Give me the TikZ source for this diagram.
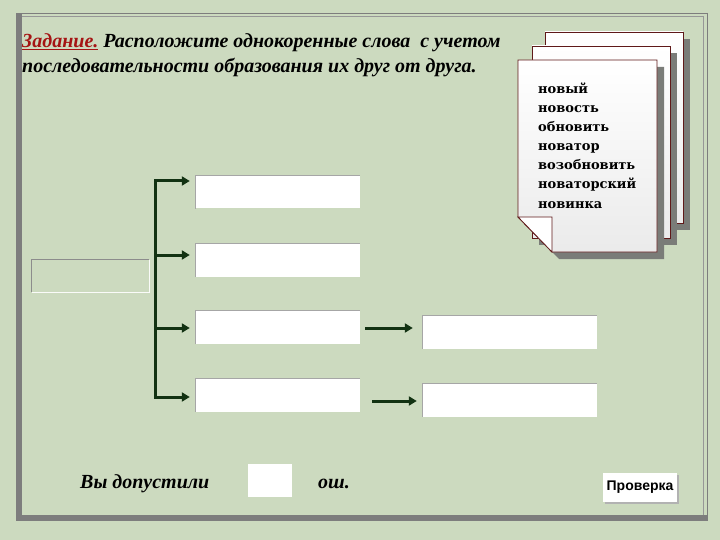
\documentclass[tikz,border=0pt]{standalone}
\usepackage{fontspec}
\setmainfont{Liberation Serif}
\newfontfamily\wordf{DejaVu Serif}
\newfontfamily\sansf{Liberation Sans}
\usetikzlibrary{arrows.meta}
\definecolor{bg}{RGB}{204,218,191}
\definecolor{framegray}{RGB}{125,125,125}
\definecolor{arrowgreen}{RGB}{18,50,18}
\definecolor{sheetedge}{RGB}{95,25,25}
\definecolor{titlered}{RGB}{165,20,20}
\definecolor{shadowgray}{RGB}{122,124,120}
\begin{document}
\begin{tikzpicture}[x=1pt,y=-1pt,
  titletext/.style={anchor=base west, inner sep=0pt, font=\fontsize{20}{25}\selectfont\bfseries\itshape},
  wordtext/.style={anchor=base west, inner sep=0pt, font=\wordf\bfseries\fontsize{13}{19}\selectfont},
  whitebox/.style={draw=none, fill=white, inner sep=0pt, minimum width=#1, minimum height=33pt},
  whitebox/.default=164pt,
  arr/.style={arrowgreen, line width=3pt, -{Triangle[length=8pt,width=9pt]}},
  sheet/.style={draw=sheetedge, line width=0.8pt, top color=white, bottom color=black!8},
  sheetshadow/.style={fill=shadowgray}
]
\useasboundingbox (0,0) rectangle (720,540);
\fill[bg] (0,0) rectangle (720,540);

% frame
\draw[framegray, line width=1pt] (16,13.5) -- (708,13.5);
\draw[framegray!80, line width=1pt] (22,16.5) -- (704,16.5);
\draw[framegray, line width=1pt] (707.5,13) -- (707.5,521);
\draw[framegray!80, line width=1pt] (703.5,16) -- (703.5,515);
\fill[framegray] (16,13) rectangle (22,521);
\fill[framegray] (16,515) rectangle (708,521);

% title
\node[titletext] (t1) at (22,48) {\textcolor{titlered}{\underline{Задание.}} Расположите однокоренные слова\ \ с учетом};
\node[titletext] (t2) at (22,73) {последовательности образования их друг от друга.};

% sheets
\fill[sheetshadow] (552,39) rectangle (690,230);
\path[sheet] (545,32) rectangle (683,223);
\fill[sheetshadow] (539,53) rectangle (677,245);
\path[sheet] (532,46) rectangle (670,238);
\fill[sheetshadow] (525,67) -- (664,67) -- (664,259) -- (559,259) -- (525,224) -- cycle;
\path[sheet] (518,60) -- (657,60) -- (657,252) -- (552,252) -- (518,217) -- cycle;
\draw[sheetedge, line width=0.8pt, fill=white] (518,217) -- (552,217) -- (552,252) -- cycle;

\foreach \w [count=\i from 0] in {новый,новость,обновить,новатор,возобновить,новаторский,новинка}
  \node[wordtext] (w\i) at (538,{94+19*\i}) {\w};

% left box
\node[inner sep=0pt, minimum width=117pt, minimum height=32pt] (lb) at (90.5,276) {};
\draw[black!45, line width=0.8pt] (lb.south west) -- (lb.north west) -- (lb.north east);
\draw[white!90!bg, line width=0.8pt] (lb.north east) -- (lb.south east) -- (lb.south west);

% boxes column 1
\node[whitebox] (b1) at (278,192) {};
\node[whitebox] (b2) at (278,260) {};
\node[whitebox] (b3) at (278,327.5) {};
\node[whitebox] (b4) at (278,395.5) {};
% boxes column 2
\node[whitebox=174pt] (c1) at (510,332) {};
\node[whitebox=174pt] (c2) at (510,400) {};
\foreach \b in {b1,b2,b3,b4,c1,c2}
  \draw[black!35, line width=0.8pt] (\b.south west) -- (\b.north west) -- (\b.north east);

% bracket
\coordinate (s1) at (155,181);
\coordinate (s2) at (155,255);
\coordinate (s3) at (155,328);
\coordinate (s4) at (155,397);
\draw[arrowgreen, line width=3pt] (155,179.5) -- (155,398.5);
\draw[arr] (s1) -- ([xshift=-6pt]s1 -| b1.west);
\draw[arr] (s2) -- ([xshift=-6pt]s2 -| b2.west);
\draw[arr] (s3) -- ([xshift=-6pt]s3 -| b3.west);
\draw[arr] (s4) -- ([xshift=-6pt]s4 -| b4.west);

\coordinate (r1) at (365,328);
\coordinate (r2) at (372,401);
\draw[arr] (r1) -- ([xshift=-10pt]r1 -| c1.west);
\draw[arr] (r2) -- ([xshift=-6pt]r2 -| c2.west);

% bottom line
\node[anchor=base west, inner sep=0pt, font=\fontsize{20}{22}\selectfont\bfseries\itshape] (vy) at (80,488) {Вы допустили};
\node[whitebox=44pt] (cnt) at (270,480.5) {};
\node[anchor=base west, inner sep=0pt, font=\fontsize{20}{22}\selectfont\bfseries\itshape] (osh) at (318,488) {ош.};

% check button
\fill[black!30] (605,475) rectangle (679,504);
\node[fill=white, inner sep=0pt, minimum width=74pt, minimum height=29pt, font=\sansf\bfseries\fontsize{14}{16}\selectfont] (chk) at (640,487.5) {Проверка};
\end{tikzpicture}
\end{document}
